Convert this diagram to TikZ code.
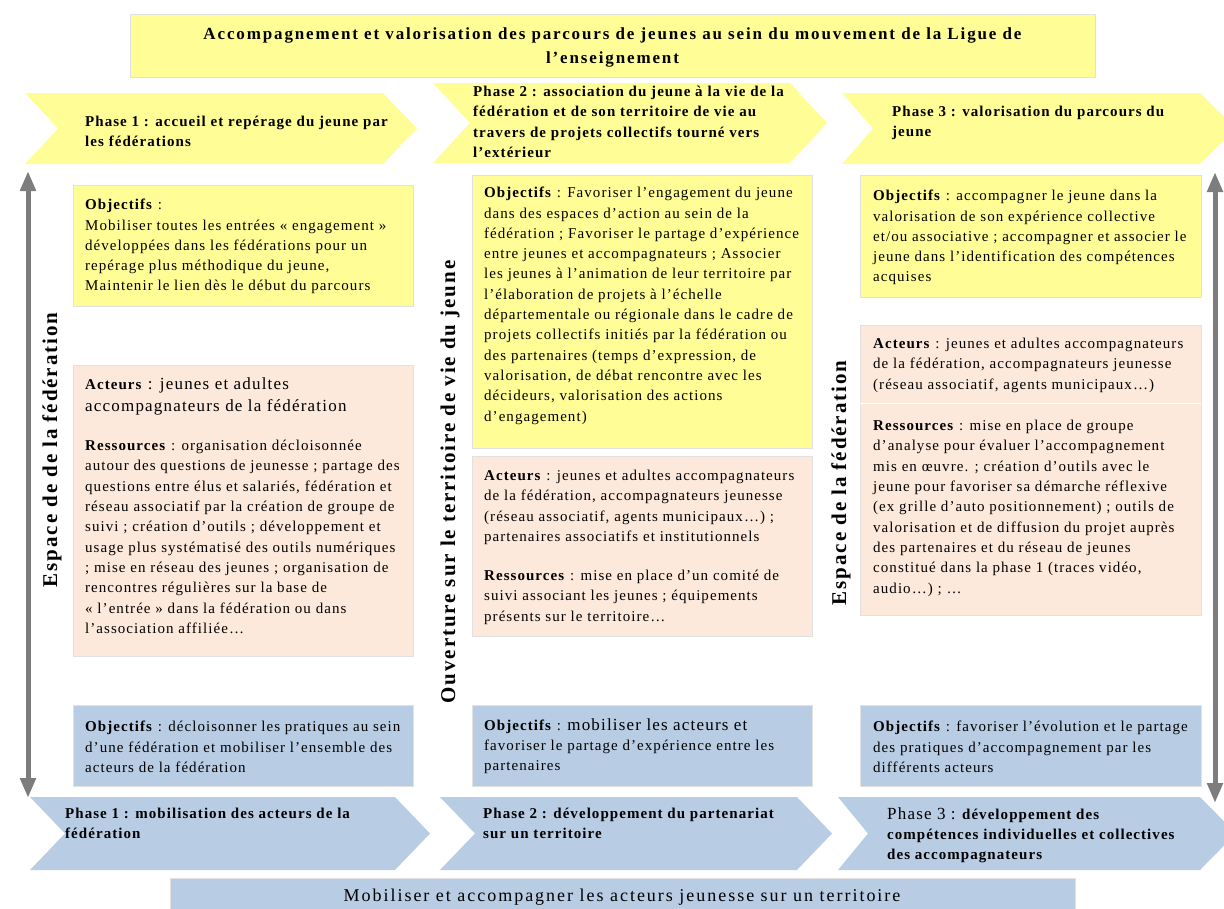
\documentclass[tikz,border=0pt]{standalone}
\usepackage{fontspec}
\setmainfont{Liberation Serif}[LetterSpace=7]
\newfontfamily\hdfont{Liberation Serif}[LetterSpace=11]
\newfontfamily\vfont{Liberation Serif}[LetterSpace=9]
\usetikzlibrary{arrows.meta}
\definecolor{yel}{RGB}{255,253,150}
\definecolor{pch}{RGB}{253,233,219}
\definecolor{blu}{RGB}{184,204,228}
\definecolor{arr}{RGB}{125,125,125}
\definecolor{edge}{RGB}{225,225,225}
\newcommand{\bodyf}{\fontsize{15}{20.3}\selectfont}
\newcommand{\bigf}{\fontsize{17}{22}\selectfont}
\begin{document}
\begin{tikzpicture}[x=1pt,y=-1pt,
  yb/.style={fill=yel,draw=edge,line width=0.6pt},
  pb/.style={fill=pch,draw=edge,line width=0.6pt},
  bb/.style={fill=blu,draw=edge,line width=0.6pt},
  txt/.style={anchor=north west,inner sep=0pt,align=left,font=\bodyf},
  chevt/.style={anchor=north west,inner sep=0pt,align=left,font=\bodyf\bfseries},
  vlab/.style={rotate=90,inner sep=0pt,font=\vfont\fontsize{21}{24}\selectfont\bfseries},
  dbl/.style={line width=5pt,arr,{Triangle[length=20pt,width=15pt]}-{Triangle[length=20pt,width=15pt]}}]
\useasboundingbox (0,0) rectangle (1224,908);
% top banner
\fill[yb] (130,14) rectangle (1095,77);
\node[anchor=center,inner sep=0pt,align=center,font=\hdfont\fontsize{17}{24}\selectfont\bfseries] (title) at (612.5,47)
 {Accompagnement et valorisation des parcours de jeunes au sein du mouvement de la Ligue de\\ l’enseignement};
% top chevrons
\fill[yel] (25,93) -- (383,93) -- (417,128.5) -- (383,164) -- (25,164) -- (58,128.5) -- cycle;
\fill[yel] (433,83) -- (790,83) -- (827,123) -- (790,163) -- (433,163) -- (470,123) -- cycle;
\fill[yel] (842,93) -- (1200,93) -- (1236,128.5) -- (1200,164) -- (842,164) -- (873,128.5) -- cycle;
\node[chevt] (p1t) at (85,116) {Phase 1 : accueil et repérage du jeune par\\ les fédérations};
\node[chevt] (p2t) at (473,86) {Phase 2 : association du jeune à la vie de la\\ fédération et de son territoire de vie au\\ travers de projets collectifs tourné vers\\ l’extérieur};
\node[chevt] (p3t) at (892,106) {Phase 3 : valorisation du parcours du\\ jeune};
% column 1
\fill[yb] (73,185) rectangle (413,306);
\node[txt] (o1) at (85,199) {\textbf{Objectifs} :\\ Mobiliser toutes les entrées « engagement »\\ développées dans les fédérations pour un\\ repérage plus méthodique du jeune,\\ Maintenir le lien dès le début du parcours};
\fill[pb] (73,365) rectangle (413,656);
\node[txt,font=\bigf] (a1) at (85,377) {{\bodyf\textbf{Acteurs}} : jeunes et adultes\\ accompagnateurs de la fédération};
\node[txt] (r1) at (85,440) {\textbf{Ressources} : organisation décloisonnée\\ autour des questions de jeunesse ; partage des\\ questions entre élus et salariés, fédération et\\ réseau associatif par la création de groupe de\\ suivi ; création d’outils ; développement et\\ usage plus systématisé des outils numériques\\ ; mise en réseau des jeunes ; organisation de\\ rencontres régulières sur la base de\\ « l’entrée » dans la fédération ou dans\\ l’association affiliée…};
\fill[bb] (73,705) rectangle (413,786);
\node[txt] (b1) at (85,721) {\textbf{Objectifs} : décloisonner les pratiques au sein\\ d’une fédération et mobiliser l’ensemble des\\ acteurs de la fédération};
% column 2
\fill[yb] (472,175) rectangle (812,448);
\node[txt] (o2) at (484,187) {\textbf{Objectifs} : Favoriser l’engagement du jeune\\ dans des espaces d’action au sein de la\\ fédération ; Favoriser le partage d’expérience\\ entre jeunes et accompagnateurs ; Associer\\ les jeunes à l’animation de leur territoire par\\ l’élaboration de projets à l’échelle\\ départementale ou régionale dans le cadre de\\ projets collectifs initiés par la fédération ou\\ des partenaires (temps d’expression, de\\ valorisation, de débat rencontre avec les\\ décideurs, valorisation des actions\\ d’engagement)};
\fill[pb] (472,456) rectangle (812,636);
\node[txt] (a2) at (484,470) {\textbf{Acteurs} : jeunes et adultes accompagnateurs\\ de la fédération, accompagnateurs jeunesse\\ (réseau associatif, agents municipaux…) ;\\ partenaires associatifs et institutionnels};
\node[txt] (r2) at (484,570) {\textbf{Ressources} : mise en place d’un comité de\\ suivi associant les jeunes ; équipements\\ présents sur le territoire…};
\fill[bb] (472,705) rectangle (812,786);
\node[txt] (b2) at (484,718) {\textbf{Objectifs} : {\bigf mobiliser les acteurs et}\\ favoriser le partage d’expérience entre les\\ partenaires};
% column 3
\fill[yb] (860,175) rectangle (1201,297);
\node[txt] (o3) at (873,190) {\textbf{Objectifs} : accompagner le jeune dans la\\ valorisation de son expérience collective\\ et/ou associative ; accompagner et associer le\\ jeune dans l’identification des compétences\\ acquises};
\fill[pb] (860,325) rectangle (1201,615);
\draw[white,line width=1pt] (860,403) -- (1201,403);
\node[txt] (a3) at (873,338) {\textbf{Acteurs} : jeunes et adultes accompagnateurs\\ de la fédération, accompagnateurs jeunesse\\ (réseau associatif, agents municipaux…)};
\node[txt] (r3) at (873,420) {\textbf{Ressources} : mise en place de groupe\\ d’analyse pour évaluer l’accompagnement\\ mis en œuvre. ; création d’outils avec le\\ jeune pour favoriser sa démarche réflexive\\ (ex grille d’auto positionnement) ; outils de\\ valorisation et de diffusion du projet auprès\\ des partenaires et du réseau de jeunes\\ constitué dans la phase 1 (traces vidéo,\\ audio…) ; …};
\fill[bb] (860,705) rectangle (1201,786);
\node[txt] (b3) at (873,721) {\textbf{Objectifs} : favoriser l’évolution et le partage\\ des pratiques d’accompagnement par les\\ différents acteurs};
% bottom chevrons
\fill[blu] (30,797) -- (395,797) -- (430,833.5) -- (395,870) -- (30,870) -- (65,833.5) -- cycle;
\fill[blu] (440,797) -- (797,797) -- (832,833.5) -- (797,870) -- (440,870) -- (475,833.5) -- cycle;
\fill[blu] (838,797) -- (1200,797) -- (1236,833.5) -- (1200,870) -- (838,870) -- (868,833.5) -- cycle;
\node[chevt] (p1b) at (65,808) {Phase 1 : mobilisation des acteurs de la\\ fédération};
\node[chevt] (p2b) at (483,808) {Phase 2 : développement du partenariat\\ sur un territoire};
\node[chevt] (p3b) at (887,807) {{\bigf\mdseries Phase 3 :} développement des\\ compétences individuelles et collectives\\ des accompagnateurs};
% bottom banner
\fill[bb] (170,878) rectangle (1075,912);
\node[inner sep=0pt,font=\hdfont\fontsize{18}{20}\selectfont] (bt) at (622,897) {Mobiliser et accompagner les acteurs jeunesse sur un territoire};
% vertical labels
\node[vlab] (v1) at (52,450) {Espace de de la fédération};
\node[vlab] (v2) at (450,482) {Ouverture sur le territoire de vie du jeune};
\node[vlab] (v3) at (841,483) {Espace de la fédération};
% arrows
\coordinate (la) at (28,171);
\coordinate (lb) at (28,798);
\coordinate (ra) at (1215,172);
\coordinate (rb) at (1215,803);
\draw[dbl] (la) -- (lb);
\draw[dbl] (ra) -- (rb);
\end{tikzpicture}
\end{document}
